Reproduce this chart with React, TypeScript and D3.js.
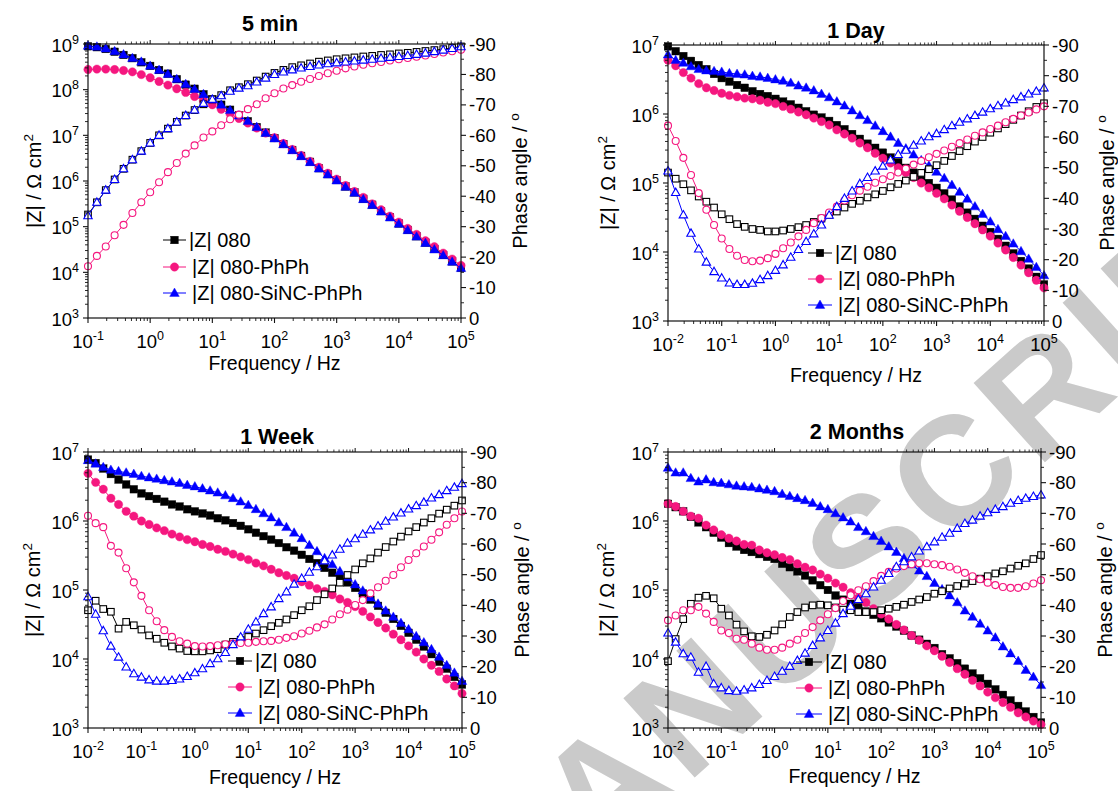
import React from "react";
import * as d3 from "d3";

const FONT = "'Liberation Sans', Arial, Helvetica, sans-serif";
const C_BLACK = "#000000";
const C_PINK = "#f5177f";
const C_BLUE = "#0000ff";

// Frequencies (Hz), 7 points per decade
const freqLow = [0.01, 0.0139, 0.0193, 0.0268, 0.0373, 0.0518, 0.072];
const freqMain = [
  0.1, 0.139, 0.193, 0.268, 0.373, 0.518, 0.72,
  1, 1.39, 1.93, 2.68, 3.73, 5.18, 7.2,
  10, 13.9, 19.3, 26.8, 37.3, 51.8, 72,
  100, 139, 193, 268, 373, 518, 720,
  1000, 1390, 1930, 2680, 3730, 5180, 7200,
  10000, 13900, 19300, 26800, 37300, 51800, 72000,
  100000,
];
const freqLong = freqLow.concat(freqMain);

const seriesLabels = ["|Z| 080", "|Z| 080-PhPh", "|Z| 080-SiNC-PhPh"];
const phaseTicks = [0, -10, -20, -30, -40, -50, -60, -70, -80, -90];

// ---------- 5 min (log10 |Z| in Ω cm², phase in degrees) ----------
const logZ080_5min = [8.95, 8.93, 8.89, 8.83, 8.76, 8.69, 8.60, 8.52, 8.43, 8.35, 8.23, 8.11, 8.02, 7.90, 7.79, 7.67, 7.56, 7.44, 7.31, 7.18, 7.06, 6.94, 6.81, 6.68, 6.55, 6.42, 6.28, 6.15, 6.02, 5.88, 5.75, 5.61, 5.48, 5.34, 5.21, 5.07, 4.93, 4.79, 4.65, 4.51, 4.38, 4.24, 4.10];
const logZPhPh_5min = [8.44, 8.45, 8.45, 8.44, 8.42, 8.39, 8.33, 8.26, 8.18, 8.10, 8.02, 7.94, 7.85, 7.76, 7.67, 7.57, 7.47, 7.37, 7.27, 7.16, 7.05, 6.95, 6.82, 6.69, 6.56, 6.43, 6.30, 6.17, 6.04, 5.90, 5.77, 5.64, 5.50, 5.37, 5.23, 5.10, 4.96, 4.83, 4.69, 4.56, 4.42, 4.29, 4.15];
const logZSiNC_5min = [8.96, 8.94, 8.90, 8.84, 8.77, 8.69, 8.61, 8.52, 8.43, 8.34, 8.23, 8.12, 8.01, 7.90, 7.78, 7.67, 7.55, 7.43, 7.31, 7.18, 7.05, 6.93, 6.80, 6.67, 6.54, 6.41, 6.27, 6.14, 6.01, 5.87, 5.74, 5.60, 5.47, 5.33, 5.20, 5.06, 4.92, 4.78, 4.64, 4.50, 4.37, 4.23, 4.09];
const ph080_5min = [-34, -38, -42, -45.5, -49, -52, -54.8, -57.5, -60, -62.2, -64.4, -66.5, -68.3, -70.2, -71.8, -73.2, -74.8, -75.8, -76.8, -78, -79.3, -80.5, -81.5, -82.4, -83, -83.6, -84.2, -84.6, -85, -85.3, -85.6, -85.9, -86.1, -86.4, -86.6, -86.9, -87.1, -87.4, -87.7, -88, -88.3, -88.7, -89.2];
const phPhPh_5min = [-17, -20.4, -23.5, -27.2, -30.6, -34.5, -38, -41.3, -44.6, -47.9, -50.9, -54, -56.7, -59.3, -61.3, -63.3, -65.3, -66.8, -68.6, -70.2, -72.2, -73.8, -75.4, -76.5, -77.6, -78.5, -79.5, -80.4, -81.2, -82, -82.6, -83.2, -83.7, -84.1, -84.6, -85, -85.4, -85.8, -86.2, -86.7, -87.2, -87.6, -88.1];
const phSiNC_5min = [-33.6, -38, -42, -45.5, -49, -52, -54.8, -57.5, -60, -62.2, -64.4, -66.5, -68.3, -70.5, -71.8, -73, -74.5, -75.5, -76.3, -77.5, -78.8, -80, -80.8, -81.5, -82.1, -82.6, -83.1, -83.5, -83.8, -84.1, -84.4, -84.7, -85, -85.3, -85.6, -85.9, -86.2, -86.6, -87, -87.5, -88, -88.5, -89.1];

// ---------- 1 Day ----------
const logZ080_1d = [6.98, 6.91, 6.84, 6.77, 6.71, 6.65, 6.58, 6.52, 6.47, 6.42, 6.38, 6.33, 6.29, 6.26, 6.22, 6.18, 6.14, 6.09, 6.04, 5.99, 5.95, 5.90, 5.84, 5.78, 5.71, 5.64, 5.57, 5.51, 5.44, 5.37, 5.30, 5.22, 5.15, 5.08, 5.00, 4.93, 4.85, 4.76, 4.66, 4.57, 4.48, 4.38, 4.29, 4.19, 4.09, 3.98, 3.87, 3.76, 3.64, 3.53];
const logZPhPh_1d = [6.78, 6.70, 6.60, 6.52, 6.44, 6.38, 6.34, 6.30, 6.27, 6.25, 6.23, 6.22, 6.20, 6.17, 6.15, 6.11, 6.07, 6.03, 5.99, 5.94, 5.89, 5.84, 5.77, 5.71, 5.65, 5.58, 5.51, 5.43, 5.36, 5.29, 5.22, 5.15, 5.08, 5.00, 4.93, 4.85, 4.77, 4.68, 4.59, 4.50, 4.41, 4.32, 4.23, 4.13, 4.03, 3.92, 3.81, 3.70, 3.59, 3.48];
const logZSiNC_1d = [6.86, 6.78, 6.74, 6.69, 6.65, 6.63, 6.62, 6.61, 6.59, 6.58, 6.57, 6.55, 6.54, 6.52, 6.50, 6.48, 6.45, 6.41, 6.38, 6.34, 6.29, 6.24, 6.18, 6.12, 6.05, 5.98, 5.91, 5.83, 5.75, 5.67, 5.58, 5.50, 5.41, 5.33, 5.25, 5.16, 5.07, 4.97, 4.87, 4.77, 4.66, 4.55, 4.44, 4.33, 4.23, 4.12, 4.01, 3.90, 3.78, 3.66];
const ph080_1d = [-48.4, -46.4, -44.6, -42.6, -40.6, -38.9, -37, -34.8, -33.2, -31.6, -30.7, -30, -29.7, -29.2, -29.2, -29.5, -30, -30.6, -31.3, -32.3, -33.4, -34.6, -35.7, -37, -38.2, -39.2, -40.3, -41.3, -42.4, -43.6, -44.7, -45.8, -47, -48.3, -49.5, -50.8, -52.2, -53.8, -55.4, -57, -58.5, -60, -61.4, -62.8, -64.2, -65.6, -67, -68.4, -69.8, -71];
const phPhPh_1d = [-63.7, -58.7, -53.2, -47.6, -41.7, -36.3, -31.3, -26.9, -23.5, -21.3, -19.9, -19.5, -19.7, -20.5, -21.9, -23.7, -25.6, -27.6, -29.7, -31.9, -33.6, -35.4, -37.3, -39.3, -41, -42.5, -43.8, -45.1, -46.2, -47.3, -48.4, -49.7, -51, -52.2, -53.4, -54.5, -55.6, -56.8, -58, -59.2, -60.4, -61.5, -62.6, -63.7, -64.8, -65.9, -67, -68, -69, -70];
const phSiNC_1d = [-48.9, -41.9, -34.6, -28.6, -23.5, -19.2, -16.1, -14, -12.4, -11.9, -11.9, -12.3, -13.5, -14.8, -16.5, -18.3, -20.8, -23.3, -25.9, -28.4, -31.3, -34.5, -37.3, -40, -42.4, -44.8, -46.8, -48.9, -50.5, -52.5, -54.3, -55.7, -57.3, -58.7, -60.1, -61.1, -62.4, -63.7, -64.8, -65.9, -67, -68.1, -69.2, -70.2, -71.1, -72.2, -73.1, -74, -74.9, -76];

// ---------- 1 Week ----------
const logZ080_1w = [6.89, 6.84, 6.76, 6.68, 6.60, 6.53, 6.46, 6.40, 6.36, 6.32, 6.28, 6.24, 6.21, 6.17, 6.14, 6.11, 6.08, 6.04, 6.01, 5.97, 5.93, 5.88, 5.83, 5.78, 5.73, 5.68, 5.62, 5.57, 5.51, 5.45, 5.39, 5.32, 5.25, 5.18, 5.11, 5.03, 4.95, 4.86, 4.77, 4.67, 4.58, 4.48, 4.38, 4.28, 4.18, 4.07, 3.96, 3.86, 3.74, 3.63];
const logZPhPh_1w = [6.69, 6.56, 6.46, 6.33, 6.24, 6.14, 6.07, 6.00, 5.95, 5.90, 5.86, 5.81, 5.77, 5.73, 5.70, 5.66, 5.63, 5.59, 5.56, 5.52, 5.48, 5.44, 5.39, 5.35, 5.30, 5.25, 5.21, 5.17, 5.12, 5.07, 5.02, 4.98, 4.93, 4.87, 4.82, 4.76, 4.69, 4.61, 4.53, 4.45, 4.36, 4.28, 4.19, 4.10, 4.00, 3.91, 3.82, 3.71, 3.61, 3.50];
const logZSiNC_1w = [6.88, 6.83, 6.78, 6.74, 6.72, 6.70, 6.68, 6.65, 6.63, 6.61, 6.59, 6.57, 6.55, 6.52, 6.50, 6.47, 6.44, 6.41, 6.37, 6.33, 6.28, 6.23, 6.17, 6.11, 6.05, 5.98, 5.91, 5.83, 5.75, 5.65, 5.56, 5.46, 5.37, 5.27, 5.18, 5.08, 4.99, 4.89, 4.80, 4.70, 4.61, 4.52, 4.43, 4.33, 4.24, 4.14, 4.03, 3.91, 3.80, 3.68];
const ph080_1w = [-38.4, -41.5, -38.8, -37.9, -32.4, -34.6, -33.5, -32.1, -30.2, -29.1, -27.8, -26.6, -25.9, -25.1, -25, -25, -25.3, -25.7, -27.2, -28.1, -28.8, -29.7, -30.8, -31.9, -33.2, -34.3, -35.4, -36.8, -38.4, -39.7, -41.7, -43.6, -45.5, -47.4, -49.9, -51.7, -53.7, -55.3, -57.2, -59, -60.8, -62.4, -64.1, -65.5, -67, -68.4, -69.9, -71.2, -72.5, -74.2];
const phPhPh_1w = [-69.2, -66.8, -65.5, -59.4, -57.2, -52.1, -47.5, -43.1, -38.4, -34.8, -31.9, -29.7, -28.3, -27.5, -26.7, -26.6, -26.7, -27, -27.3, -27.5, -27.7, -27.8, -28.1, -28.3, -28.4, -28.8, -29.4, -29.9, -30.8, -31.7, -32.8, -33.8, -35.4, -37.1, -38.6, -40.1, -41.7, -43.9, -45.9, -48, -49.9, -52.4, -54.8, -57, -59.2, -61.4, -63.8, -66.3, -68.4, -70.6];
const phSiNC_1w = [-42.8, -37.1, -31.7, -26.7, -23.1, -19.9, -17.7, -16.6, -15.7, -15.3, -15.3, -15.5, -16, -16.8, -18, -19.3, -21, -22.6, -24.6, -27.2, -29.7, -32.2, -34.6, -37.3, -39.5, -42.2, -44.4, -46.9, -48.8, -50.8, -52.6, -54.5, -56.4, -58.3, -60.3, -61.7, -63.2, -64.6, -65.9, -67.4, -68.8, -70.1, -71.4, -72.5, -73.6, -75, -76.1, -77.4, -78.5, -79.7];

// ---------- 2 Months ----------
const logZ080_2m = [6.25, 6.20, 6.14, 6.06, 5.98, 5.91, 5.83, 5.76, 5.68, 5.63, 5.58, 5.55, 5.52, 5.48, 5.45, 5.38, 5.33, 5.27, 5.21, 5.14, 5.07, 5.00, 4.92, 4.86, 4.80, 4.75, 4.69, 4.64, 4.59, 4.53, 4.47, 4.41, 4.34, 4.28, 4.22, 4.16, 4.07, 4.01, 3.94, 3.86, 3.79, 3.72, 3.64, 3.56, 3.48, 3.40, 3.32, 3.24, 3.16, 3.08];
const logZPhPh_2m = [6.25, 6.21, 6.14, 6.07, 6.04, 5.94, 5.87, 5.80, 5.75, 5.71, 5.66, 5.65, 5.58, 5.54, 5.51, 5.47, 5.44, 5.38, 5.33, 5.29, 5.23, 5.17, 5.10, 5.04, 4.96, 4.88, 4.82, 4.73, 4.65, 4.58, 4.50, 4.42, 4.34, 4.27, 4.19, 4.12, 4.04, 3.95, 3.86, 3.78, 3.69, 3.61, 3.52, 3.44, 3.37, 3.30, 3.22, 3.16, 3.10, 3.05];
const logZSiNC_2m = [6.77, 6.70, 6.70, 6.62, 6.57, 6.60, 6.56, 6.55, 6.53, 6.51, 6.50, 6.49, 6.47, 6.45, 6.43, 6.39, 6.36, 6.33, 6.30, 6.26, 6.21, 6.17, 6.11, 6.05, 5.99, 5.91, 5.85, 5.78, 5.71, 5.63, 5.55, 5.46, 5.37, 5.28, 5.20, 5.10, 5.01, 4.92, 4.82, 4.70, 4.61, 4.51, 4.41, 4.31, 4.18, 4.08, 3.97, 3.84, 3.74, 3.62];
const ph080_2m = [-21.8, -29, -35.5, -40.5, -42.5, -43.1, -42.3, -38.9, -36.7, -33.7, -31.5, -29.9, -29.7, -30.4, -31.8, -33.8, -36.2, -37.8, -39.3, -40, -40.2, -40, -39.3, -38.6, -38.4, -37.8, -37.8, -37.8, -38.4, -38.9, -39.5, -40.2, -41.1, -41.9, -42.7, -43.8, -44.6, -45.5, -46.3, -47.1, -47.9, -48.7, -49.5, -50.4, -51.1, -52, -52.9, -53.7, -55.1, -56.4];
const phPhPh_2m = [-35.1, -36.7, -38.4, -38.4, -39.5, -37.3, -34.6, -31.8, -31, -29.1, -28.8, -27.5, -26.2, -25.5, -25.5, -26.2, -27.5, -28.8, -31, -32.9, -35.1, -37.1, -39.1, -41.4, -43.3, -44.9, -46.2, -47.9, -49.6, -50.9, -52, -52.8, -53.4, -53.7, -53.7, -53.4, -53.1, -52.6, -51.7, -50.6, -49.5, -48.5, -47.4, -46.6, -46, -45.7, -45.7, -46.2, -47.1, -48.2];
const phSiNC_2m = [-31, -28, -24.2, -23.1, -18.2, -20.1, -14.4, -13.1, -12.2, -12, -12.4, -13.1, -14.2, -15.5, -16.8, -18.5, -20.1, -22, -24.4, -26.9, -29.4, -31.8, -34.2, -37.3, -39.7, -41.9, -43.8, -46, -48.2, -50.4, -52.6, -54.2, -55.8, -57.7, -59.1, -60.7, -62.2, -63.5, -65.1, -66.7, -67.8, -69.1, -70.2, -71.3, -72.2, -73.3, -74.2, -74.9, -75.5, -76];

type Shape = "square" | "circle" | "triangle";
type Series = { z: number[]; ph: number[]; color: string; shape: Shape };
type PanelCfg = {
  title: string; titleX: number; titleY: number;
  x0: number; x1: number; y0: number; y1: number;
  xExp: [number, number]; yExp: [number, number];
  freqs: number[]; series: Series[];
  legX0: number; legX1: number; legRows: number[];
  yLabelX: number; phLabelX: number; freqDy: number;
};

const panels: PanelCfg[] = [
  {
    title: "5 min", titleX: 270, titleY: 31,
    x0: 88, x1: 461, y0: 44, y1: 318, xExp: [-1, 5], yExp: [3, 9], freqs: freqMain,
    series: [
      { z: logZ080_5min, ph: ph080_5min, color: C_BLACK, shape: "square" },
      { z: logZPhPh_5min, ph: phPhPh_5min, color: C_PINK, shape: "circle" },
      { z: logZSiNC_5min, ph: phSiNC_5min, color: C_BLUE, shape: "triangle" },
    ],
    legX0: 163, legX1: 186, legRows: [240, 267, 293],
    yLabelX: 41, phLabelX: 527, freqDy: 52,
  },
  {
    title: "1 Day", titleX: 856, titleY: 38,
    x0: 668, x1: 1044, y0: 45, y1: 321, xExp: [-2, 5], yExp: [3, 7], freqs: freqLong,
    series: [
      { z: logZ080_1d, ph: ph080_1d, color: C_BLACK, shape: "square" },
      { z: logZPhPh_1d, ph: phPhPh_1d, color: C_PINK, shape: "circle" },
      { z: logZSiNC_1d, ph: phSiNC_1d, color: C_BLUE, shape: "triangle" },
    ],
    legX0: 808, legX1: 832, legRows: [253, 279, 305],
    yLabelX: 615, phLabelX: 1114, freqDy: 61,
  },
  {
    title: "1 Week", titleX: 277, titleY: 444,
    x0: 88, x1: 462, y0: 452, y1: 728, xExp: [-2, 5], yExp: [3, 7], freqs: freqLong,
    series: [
      { z: logZ080_1w, ph: ph080_1w, color: C_BLACK, shape: "square" },
      { z: logZPhPh_1w, ph: phPhPh_1w, color: C_PINK, shape: "circle" },
      { z: logZSiNC_1w, ph: phSiNC_1w, color: C_BLUE, shape: "triangle" },
    ],
    legX0: 228, legX1: 252, legRows: [661, 687, 713],
    yLabelX: 40, phLabelX: 529, freqDy: 56,
  },
  {
    title: "2 Months", titleX: 857, titleY: 439,
    x0: 668, x1: 1041, y0: 452, y1: 728, xExp: [-2, 5], yExp: [3, 7], freqs: freqLong,
    series: [
      { z: logZ080_2m, ph: ph080_2m, color: C_BLACK, shape: "square" },
      { z: logZPhPh_2m, ph: phPhPh_2m, color: C_PINK, shape: "circle" },
      { z: logZSiNC_2m, ph: phSiNC_2m, color: C_BLUE, shape: "triangle" },
    ],
    legX0: 796, legX1: 822, legRows: [662, 688, 714],
    yLabelX: 614, phLabelX: 1112, freqDy: 55,
  },
];

function marker(shape: Shape, cx: number, cy: number, color: string, filled: boolean, key: string) {
  const fill = filled ? color : "#ffffff";
  const sw = filled ? 0.4 : 1.1;
  if (shape === "square") {
    const s = filled ? 7.6 : 6.6;
    return <rect key={key} x={cx - s / 2} y={cy - s / 2} width={s} height={s} fill={fill} stroke={color} strokeWidth={sw} />;
  }
  if (shape === "circle") {
    return <circle key={key} cx={cx} cy={cy} r={filled ? 4.2 : 3.5} fill={fill} stroke={color} strokeWidth={sw} />;
  }
  const w = filled ? 4.8 : 4.2;
  const h1 = filled ? 5.0 : 4.4;
  const h2 = filled ? 3.4 : 3.0;
  return <polygon key={key} points={`${cx},${cy - h1} ${cx + w},${cy + h2} ${cx - w},${cy + h2}`} fill={fill} stroke={color} strokeWidth={sw} />;
}

function Sup({ base, exp, ...rest }: any) {
  return (
    <text {...rest}>
      {base}
      <tspan dy={-8} fontSize={12.5}>{exp}</tspan>
    </text>
  );
}

function Panel({ cfg }: { cfg: PanelCfg }) {
  const { x0, x1, y0, y1, xExp, yExp, freqs } = cfg;
  const x = d3.scaleLog().domain([Math.pow(10, xExp[0]), Math.pow(10, xExp[1])]).range([x0, x1]);
  const y = d3.scaleLog().domain([Math.pow(10, yExp[0]), Math.pow(10, yExp[1])]).range([y1, y0]);
  const yp = d3.scaleLinear().domain([0, -90]).range([y1, y0]);

  const xMajors = d3.range(xExp[0], xExp[1] + 1);
  const yMajors = d3.range(yExp[0], yExp[1] + 1);
  const xMinor: number[] = [];
  xMajors.slice(0, -1).forEach((e) => [2, 3, 4, 5, 6, 7, 8, 9].forEach((k) => xMinor.push(k * Math.pow(10, e))));
  const yMinor: number[] = [];
  yMajors.slice(0, -1).forEach((e) => [2, 3, 4, 5, 6, 7, 8, 9].forEach((k) => yMinor.push(k * Math.pow(10, e))));
  const phMinor = d3.range(-5, -90, -10);

  const zLine = d3.line<number>().x((_, i) => x(freqs[i])).y((v) => y(Math.pow(10, v)));
  const pLine = d3.line<number>().x((_, i) => x(freqs[i])).y((v) => yp(v));

  const ax = "#111";
  const midY = (y0 + y1) / 2;
  const midX = (x0 + x1) / 2;

  return (
    <g fontFamily={FONT}>
      {cfg.series.map((s, si) => (
        <g key={"z" + si}>
          <path d={zLine(s.z) || ""} fill="none" stroke={s.color} strokeWidth={1} />
          {s.z.map((v, i) => marker(s.shape, x(freqs[i]), y(Math.pow(10, v)), s.color, true, `zm${si}-${i}`))}
        </g>
      ))}
      {cfg.series.map((s, si) => (
        <g key={"p" + si}>
          <path d={pLine(s.ph) || ""} fill="none" stroke={s.color} strokeWidth={1} />
          {s.ph.map((v, i) => marker(s.shape, x(freqs[i]), yp(v), s.color, false, `pm${si}-${i}`))}
        </g>
      ))}

      <rect x={x0} y={y0} width={x1 - x0} height={y1 - y0} fill="none" stroke={ax} strokeWidth={1.2} />

      {xMajors.map((e) => {
        const px = x(Math.pow(10, e));
        return (
          <g key={"xm" + e}>
            <line x1={px} x2={px} y1={y1} y2={y1 + 5} stroke={ax} strokeWidth={1.1} />
            <line x1={px} x2={px} y1={y0} y2={y0 - 4} stroke={ax} strokeWidth={1} />
            <Sup base="10" exp={String(e)} x={px} y={y1 + 30} textAnchor="middle" fontSize={18.5} fill="#000" />
          </g>
        );
      })}
      {xMinor.map((v, i) => {
        const px = x(v);
        return (
          <g key={"xn" + i}>
            <line x1={px} x2={px} y1={y1} y2={y1 + 3} stroke={ax} strokeWidth={0.9} />
            <line x1={px} x2={px} y1={y0} y2={y0 - 2.5} stroke={ax} strokeWidth={0.8} />
          </g>
        );
      })}

      {yMajors.map((e) => {
        const py = y(Math.pow(10, e));
        return (
          <g key={"ym" + e}>
            <line x1={x0 - 5} x2={x0} y1={py} y2={py} stroke={ax} strokeWidth={1.1} />
            <Sup base="10" exp={String(e)} x={x0 - 9} y={py + 7.5} textAnchor="end" fontSize={18.5} fill="#000" />
          </g>
        );
      })}
      {yMinor.map((v, i) => {
        const py = y(v);
        return <line key={"yn" + i} x1={x0 - 3} x2={x0} y1={py} y2={py} stroke={ax} strokeWidth={0.9} />;
      })}

      {phaseTicks.map((t) => {
        const py = yp(t);
        return (
          <g key={"pt" + t}>
            <line x1={x1} x2={x1 + 5} y1={py} y2={py} stroke={ax} strokeWidth={1.1} />
            <text x={x1 + 8} y={py + 6.5} fontSize={18.5} fill="#000">{String(t)}</text>
          </g>
        );
      })}
      {phMinor.map((t) => {
        const py = yp(t);
        return <line key={"pn" + t} x1={x1} x2={x1 + 3} y1={py} y2={py} stroke={ax} strokeWidth={0.9} />;
      })}

      <text x={cfg.titleX} y={cfg.titleY} textAnchor="middle" fontSize={21.5} fontWeight="bold" fill="#000">{cfg.title}</text>
      <text x={midX} y={y1 + cfg.freqDy} textAnchor="middle" fontSize={19.5} fill="#000">Frequency / Hz</text>
      <text transform={`translate(${cfg.yLabelX},${midY}) rotate(-90)`} textAnchor="middle" fontSize={20} fill="#000">
        |Z| / Ω cm<tspan dy={-8} fontSize={13.5}>2</tspan>
      </text>
      <text transform={`translate(${cfg.phLabelX},${midY}) rotate(-90)`} textAnchor="middle" fontSize={20} fill="#000">
        Phase angle / <tspan dy={-8} fontSize={13.5}>o</tspan>
      </text>

      {cfg.series.map((s, si) => {
        const ry = cfg.legRows[si];
        const mx = (cfg.legX0 + cfg.legX1) / 2;
        return (
          <g key={"lg" + si}>
            <line x1={cfg.legX0} x2={cfg.legX1} y1={ry} y2={ry} stroke={s.color} strokeWidth={1} />
            {marker(s.shape, mx, ry, s.color, true, `lm${si}`)}
            <text x={cfg.legX1 + (si === 0 ? 3 : 6)} y={ry + 7} fontSize={20} fill="#000">{seriesLabels[si]}</text>
          </g>
        );
      })}
    </g>
  );
}

// Diagonal "ACCEPTED MANUSCRIPT" watermark (one text element)
const WM_TEXT = "ACCEPTED MANUSCRIPT";

function Watermark() {
  const fs = 155;
  const ls = 8;
  const angle = -42;
  // pivot = centre of the "S" of MANUSCRIPT; text starts this far before it
  const startOffset = 1516;
  return (
    <g transform={`translate(866,548) rotate(${angle})`}>
      <text x={-startOffset} y={56} fontFamily={FONT} fontWeight="bold" fontSize={fs} letterSpacing={ls} fill="#cacaca">
        {WM_TEXT}
      </text>
    </g>
  );
}

export default function App() {
  return (
    <svg width={1118} height={791} viewBox="0 0 1118 791" style={{ position: "absolute", left: 0, top: 0, background: "#fff" }}>
      <rect x={0} y={0} width={1118} height={791} fill="#fff" />
      <Watermark />
      {panels.map((p, i) => (
        <Panel key={i} cfg={p} />
      ))}
    </svg>
  );
}
